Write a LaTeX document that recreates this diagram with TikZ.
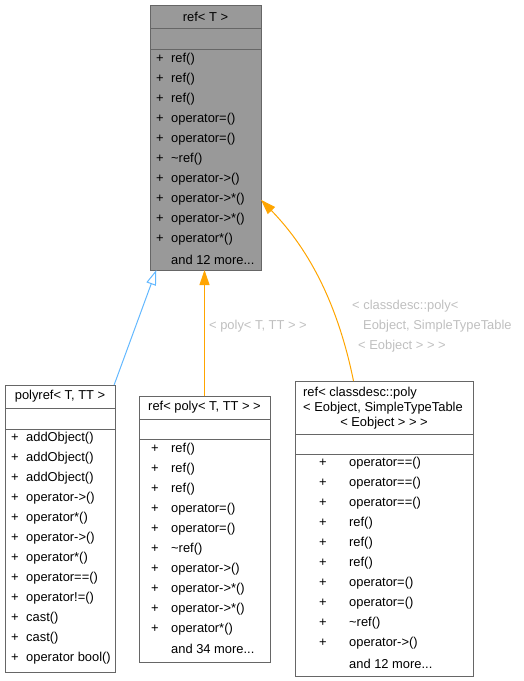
\documentclass[tikz,border=0pt]{standalone}
\usepackage{fontspec}
\setmainfont{Liberation Sans}
\usetikzlibrary{arrows.meta}
\definecolor{boxgray}{HTML}{999999}
\definecolor{linegray}{HTML}{666666}
\definecolor{lblgray}{HTML}{BFBFBF}
\definecolor{inhblue}{HTML}{63B8FF}
\definecolor{useorange}{HTML}{FFA500}
\tikzset{
  part/.style={draw=linegray, line width=1pt, anchor=north west, inner sep=0pt, outer sep=0pt},
  memb/.style={anchor=west, inner sep=0pt},
  lbl/.style={anchor=west, inner sep=0pt, text=lblgray},
  inh/.style={draw=inhblue, line width=1pt, -{Triangle[open, length=15pt, width=10pt]}},
  use/.style={draw=useorange, line width=1pt, -{Triangle[length=15pt, width=10pt]}, fill=none}
}
\begin{document}
\begin{tikzpicture}[x=1pt,y=-1pt,font=\fontsize{12.9}{15}\selectfont]
\useasboundingbox (0,0) rectangle (524,681);

% ref< T >
\node[part, fill=boxgray, minimum width=111pt, minimum height=23pt] (top-h) at (150,5) {ref< T >};
\node[part, fill=boxgray, minimum width=111pt, minimum height=21pt] (top-e) at (150,28) {};
\node[part, fill=boxgray, minimum width=111pt, minimum height=221pt] (top-m) at (150,49) {};
\node[memb] (top1) at (156,59.5) {\makebox[15pt][l]{+}ref()};
\node[memb] (top2) at (156,79.5) {\makebox[15pt][l]{+}ref()};
\node[memb] (top3) at (156,99.5) {\makebox[15pt][l]{+}ref()};
\node[memb] (top4) at (156,119.5) {\makebox[15pt][l]{+}operator=()};
\node[memb] (top5) at (156,139.5) {\makebox[15pt][l]{+}operator=()};
\node[memb] (top6) at (156,159.5) {\makebox[15pt][l]{+}\textasciitilde ref()};
\node[memb] (top7) at (156,179.5) {\makebox[15pt][l]{+}operator->()};
\node[memb] (top8) at (156,199.5) {\makebox[15pt][l]{+}operator->*()};
\node[memb] (top9) at (156,219.5) {\makebox[15pt][l]{+}operator->*()};
\node[memb] (top10) at (156,239.5) {\makebox[15pt][l]{+}operator*()};
\node[memb] (top11) at (171,259.5) {and 12 more...};

% polyref< T, TT >
\node[part, minimum width=110pt, minimum height=23pt] (pr-h) at (5,385) {polyref< T, TT >};
\node[part, minimum width=110pt, minimum height=21pt] (pr-e) at (5,408) {};
\node[part, minimum width=110pt, minimum height=243pt] (pr-m) at (5,429) {};
\node[memb] (pr1) at (11,438.5) {\makebox[15pt][l]{+}addObject()};
\node[memb] (pr2) at (11,458.5) {\makebox[15pt][l]{+}addObject()};
\node[memb] (pr3) at (11,478.5) {\makebox[15pt][l]{+}addObject()};
\node[memb] (pr4) at (11,498.5) {\makebox[15pt][l]{+}operator->()};
\node[memb] (pr5) at (11,518.5) {\makebox[15pt][l]{+}operator*()};
\node[memb] (pr6) at (11,538.5) {\makebox[15pt][l]{+}operator->()};
\node[memb] (pr7) at (11,558.5) {\makebox[15pt][l]{+}operator*()};
\node[memb] (pr8) at (11,578.5) {\makebox[15pt][l]{+}operator==()};
\node[memb] (pr9) at (11,598.5) {\makebox[15pt][l]{+}operator!=()};
\node[memb] (pr10) at (11,618.5) {\makebox[15pt][l]{+}cast()};
\node[memb] (pr11) at (11,638.5) {\makebox[15pt][l]{+}cast()};
\node[memb] (pr12) at (11,658.5) {\makebox[15pt][l]{+}operator bool()};

% ref< poly< T, TT > >
\node[part, minimum width=131pt, minimum height=23pt] (rp-h) at (139,396) {ref< poly< T, TT > >};
\node[part, minimum width=131pt, minimum height=20pt] (rp-e) at (139,419) {};
\node[part, minimum width=131pt, minimum height=223pt] (rp-m) at (139,439) {};
\node[memb] (rp1) at (151,449) {\makebox[20pt][l]{+}ref()};
\node[memb] (rp2) at (151,469) {\makebox[20pt][l]{+}ref()};
\node[memb] (rp3) at (151,489) {\makebox[20pt][l]{+}ref()};
\node[memb] (rp4) at (151,509) {\makebox[20pt][l]{+}operator=()};
\node[memb] (rp5) at (151,529) {\makebox[20pt][l]{+}operator=()};
\node[memb] (rp6) at (151,549) {\makebox[20pt][l]{+}\textasciitilde ref()};
\node[memb] (rp7) at (151,569) {\makebox[20pt][l]{+}operator->()};
\node[memb] (rp8) at (151,589) {\makebox[20pt][l]{+}operator->*()};
\node[memb] (rp9) at (151,609) {\makebox[20pt][l]{+}operator->*()};
\node[memb] (rp10) at (151,629) {\makebox[20pt][l]{+}operator*()};
\node[memb] (rp11) at (171,649) {and 34 more...};

% ref< classdesc::poly< ... > >
\node[part, minimum width=178pt, minimum height=53pt] (rc-h) at (295,381) {};
\node[part, minimum width=178pt, minimum height=20pt] (rc-e) at (295,434) {};
\node[part, minimum width=178pt, minimum height=222pt] (rc-m) at (295,454) {};
\node[memb] (rc-t1) at (303,393.3) {ref< classdesc::poly};
\node[memb] (rc-t2) at (303,408.3) {< Eobject, SimpleTypeTable};
\node[inner sep=0pt] (rc-t3) at (384,423.3) {< Eobject > > >};
\node[memb] (rc1) at (319,463.5) {\makebox[30pt][l]{+}operator==()};
\node[memb] (rc2) at (319,483.5) {\makebox[30pt][l]{+}operator==()};
\node[memb] (rc3) at (319,503.5) {\makebox[30pt][l]{+}operator==()};
\node[memb] (rc4) at (319,523.5) {\makebox[30pt][l]{+}ref()};
\node[memb] (rc5) at (319,543.5) {\makebox[30pt][l]{+}ref()};
\node[memb] (rc6) at (319,563.5) {\makebox[30pt][l]{+}ref()};
\node[memb] (rc7) at (319,583.5) {\makebox[30pt][l]{+}operator=()};
\node[memb] (rc8) at (319,603.5) {\makebox[30pt][l]{+}operator=()};
\node[memb] (rc9) at (319,623.5) {\makebox[30pt][l]{+}\textasciitilde ref()};
\node[memb] (rc10) at (319,643.5) {\makebox[30pt][l]{+}operator->()};
\node[memb] (rc11) at (349,663.5) {and 12 more...};

% edges
\draw[inh] (pr-h.12) -- (top-m.246);
\draw[use] (rp-h.north) -- (rp-h.north |- top-m.south);
\node[lbl] (lbl-rp) at (209,326) {< poly< T, TT > >};
\draw[use] (rc-h.139) .. controls (335,290) and (300,240) .. (top-m.-36);
\node[lbl] (lbl-rc1) at (352,306) {< classdesc::poly<};
\node[lbl] (lbl-rc2) at (363,326) {Eobject, SimpleTypeTable};
\node[lbl] (lbl-rc3) at (358,346) {< Eobject > > >};
\end{tikzpicture}
\end{document}
